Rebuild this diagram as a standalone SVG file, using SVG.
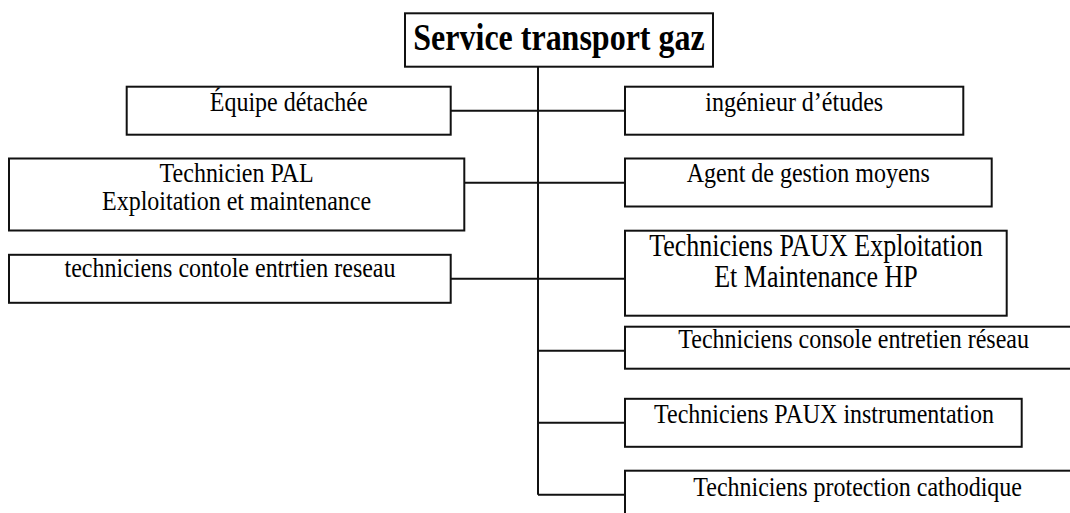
<svg xmlns="http://www.w3.org/2000/svg" width="1070" height="513" viewBox="0 0 1070 513">
<style>
.box{fill:#fff;stroke:#111;stroke-width:2}
.ln{fill:none;stroke:#111;stroke-width:2}
.t{font-family:"Liberation Serif","Times New Roman",serif;font-size:24px;fill:#000}
.m{text-anchor:middle}
.big{font-size:26px}
.title{font-family:"Liberation Serif","Times New Roman",serif;font-size:32px;font-weight:bold;fill:#000;text-anchor:middle}
</style>
<rect width="1070" height="513" fill="#fff"/>
<g id="connectors">
<path class="ln" d="M538 66.7V494.7"/>
<path class="ln" d="M450.7 110.7H625"/>
<path class="ln" d="M464.3 182.7H625"/>
<path class="ln" d="M450.7 278.7H625"/>
<path class="ln" d="M538 350.7H625"/>
<path class="ln" d="M538 422.7H625"/>
<path class="ln" d="M538 494.7H625"/>
</g>
<g id="n-service">
<rect class="box" x="405" y="13.3" width="308" height="53.4"/>
<text class="title" transform="translate(559,50) scale(1,1.18)">Service transport gaz</text>
</g>
<g id="n-equipe">
<rect class="box" x="126.7" y="86.7" width="324" height="48"/>
<text class="t m" transform="translate(288.7,110.5) scale(1,1.13)">Équipe détachée</text>
</g>
<g id="n-ingenieur">
<rect class="box" x="625" y="86.7" width="338.3" height="48"/>
<text class="t m" transform="translate(794.2,110.5) scale(1,1.13)">ingénieur d’études</text>
</g>
<g id="n-pal">
<rect class="box" x="9" y="158.5" width="455.3" height="72"/>
<text class="t m" transform="translate(236.6,181.7) scale(1,1.13)">Technicien PAL</text>
<text class="t m" transform="translate(236.6,210) scale(1,1.13)">Exploitation et maintenance</text>
</g>
<g id="n-agent">
<rect class="box" x="625" y="158.5" width="366.7" height="48"/>
<text class="t m" transform="translate(808.3,182) scale(1,1.13)">Agent de gestion moyens</text>
</g>
<g id="n-contole">
<rect class="box" x="9" y="254.8" width="441.7" height="48"/>
<text class="t m" transform="translate(230,276.7) scale(1,1.13)">techniciens contole entrtien reseau</text>
</g>
<g id="n-paux">
<rect class="box" x="625" y="230.7" width="381.7" height="85"/>
<text class="t big m" transform="translate(816,256) scale(1,1.2)">Techniciens PAUX Exploitation</text>
<text class="t big m" transform="translate(816,287) scale(1,1.2)">Et Maintenance HP</text>
</g>
<g id="n-console">
<rect class="box" x="625" y="326.7" width="460" height="42"/>
<text class="t" transform="translate(678.3,348.3) scale(1,1.13)">Techniciens console entretien réseau</text>
</g>
<g id="n-instrumentation">
<rect class="box" x="625" y="398.8" width="396.7" height="48"/>
<text class="t m" transform="translate(824,422.7) scale(1,1.13)">Techniciens PAUX instrumentation</text>
</g>
<g id="n-protection">
<rect class="box" x="625" y="470.7" width="460" height="60"/>
<text class="t" transform="translate(693.3,496) scale(1,1.13)">Techniciens protection cathodique</text>
</g>
</svg>
